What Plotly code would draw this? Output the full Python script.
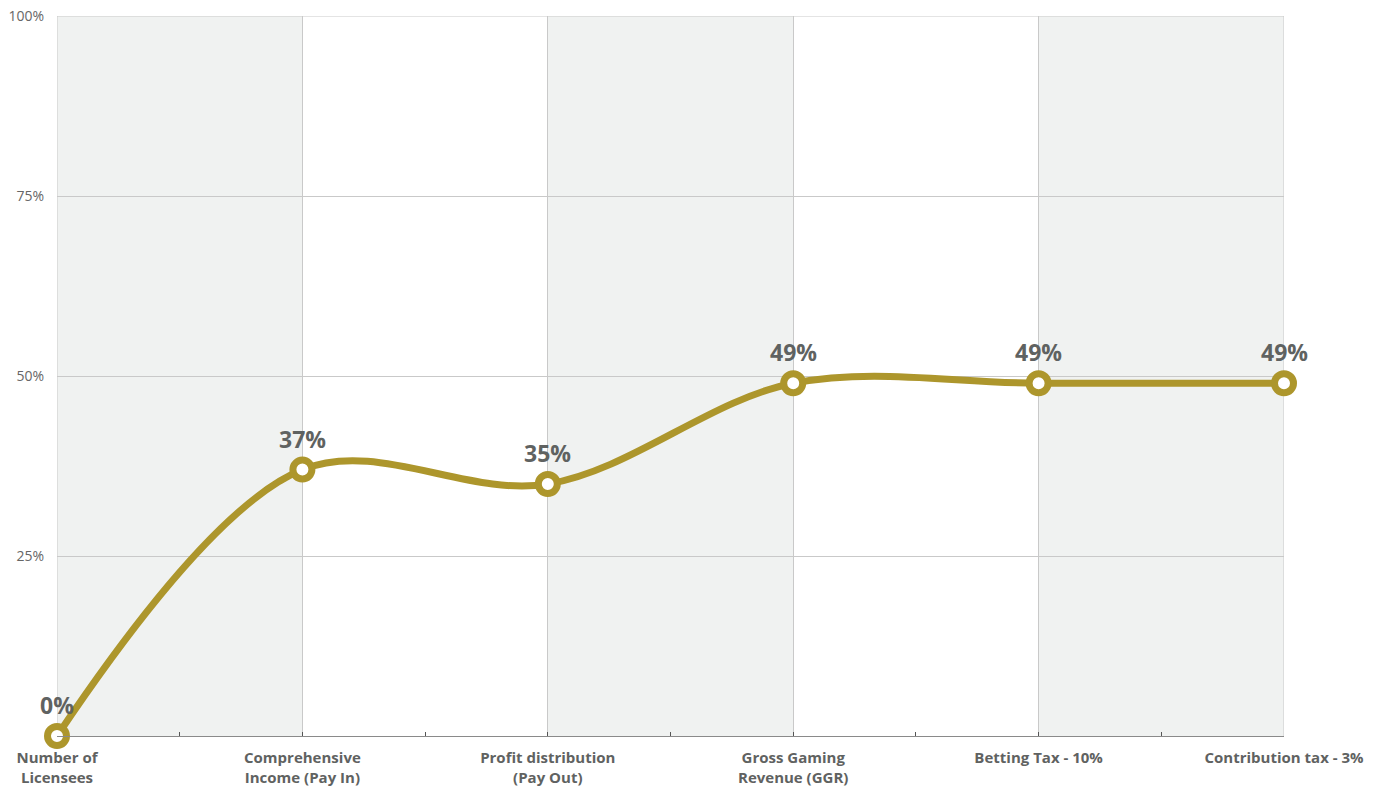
import plotly.graph_objects as go

categories = ["Number of<br>Licensees", "Comprehensive<br>Income (Pay In)", "Profit distribution<br>(Pay Out)",
              "Gross Gaming<br>Revenue (GGR)", "Betting Tax - 10%", "Contribution tax - 3%"]
values = [0, 37, 35, 49, 49, 49]
y_ticks = [25, 50, 75, 100]
y_tick_labels = ["25%", "50%", "75%", "100%"]

idx = list(range(len(categories)))
gold = "#ad962c"
label_color = "#5f6261"
grid_color = "#c9c9c9"

fig = go.Figure()
fig.add_trace(go.Scatter(
    x=idx, y=values, mode="lines+markers",
    line=dict(shape="spline", smoothing=1.0, color=gold, width=7),
    marker=dict(size=19, color="white", line=dict(color=gold, width=7)),
    cliponaxis=False, hoverinfo="skip",
))

annotations = [dict(x=i, y=v, xref="x", yref="y", text=f"{v}%", showarrow=False,
                    yanchor="middle", yshift=31,
                    font=dict(family="Open Sans", size=23, color=label_color, weight="bold"))
               for i, v in zip(idx, values)]

shapes = []
for i in range(0, len(categories) - 1, 2):
    shapes.append(dict(type="rect", xref="x", yref="paper", x0=idx[i], x1=idx[i + 1], y0=0, y1=1,
                       fillcolor="#f0f2f1", line=dict(width=0), layer="below"))
# edge grid lines (plotly drops grid lines lying on the plot edges)
shapes.append(dict(type="line", xref="paper", yref="y", x0=0, x1=1, y0=y_ticks[-1], y1=y_ticks[-1],
                   line=dict(color=grid_color, width=1), layer="below"))
for xe in (idx[0], idx[-1]):
    shapes.append(dict(type="line", xref="x", yref="paper", x0=xe, x1=xe, y0=0, y1=1,
                       line=dict(color=grid_color, width=1), layer="below"))

fig.update_layout(
    width=1379, height=789,
    margin=dict(l=57, r=95, t=16, b=53),
    paper_bgcolor="white", plot_bgcolor="white",
    showlegend=False, shapes=shapes, annotations=annotations,
    xaxis=dict(range=[idx[0], idx[-1]], tickvals=idx, ticktext=categories,
               showgrid=True, gridcolor=grid_color, gridwidth=1,
               showline=True, linecolor="#8a8a8a", linewidth=1,
               ticks="inside", ticklen=0, tickcolor="#555",
               minor=dict(dtick=0.5, ticks="inside", ticklen=4, tickcolor="#555", showgrid=False),
               tickfont=dict(family="Open Sans", size=15, color=label_color, weight="bold"),
               ticklabelstandoff=8, ticklabeloverflow="allow",
               zeroline=False, fixedrange=True, automargin=False),
    yaxis=dict(range=[0, 100], tickvals=y_ticks, ticktext=y_tick_labels,
               showgrid=True, gridcolor=grid_color, gridwidth=1,
               tickfont=dict(family="Open Sans", size=14, color="#666"),
               ticklabelstandoff=12, ticklabeloverflow="allow",
               zeroline=False, showline=False, fixedrange=True,
               automargin=False),
)

fig.write_html("out.html", config={"displayModeBar": False},
               post_script="document.body.style.margin='0';document.body.style.overflow='hidden';")
